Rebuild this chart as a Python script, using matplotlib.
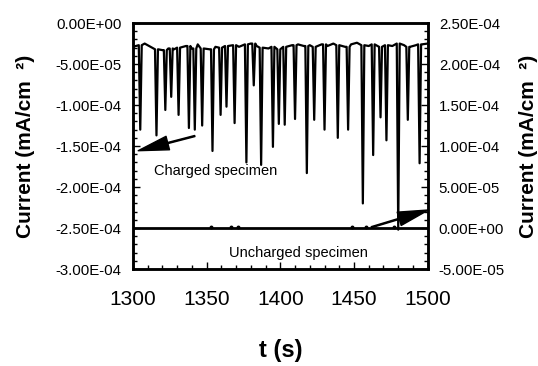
import numpy as np
import matplotlib
matplotlib.use('Agg')
import matplotlib.pyplot as plt
from matplotlib.ticker import MultipleLocator, FuncFormatter

plt.rcParams['font.family'] = ['Liberation Sans', 'DejaVu Sans']

# baseline of charged specimen, read every 4 s (units 1e-5 mA/cm2)
base_t = np.arange(1300, 1501, 4)
base_v = np.array([-2.9, -2.7, -2.5, -2.9, -3.2, -3.3, -3.1, -3.2, -3.0, -2.8,
                   -3.1, -2.6, -3.1, -3.2, -2.9, -3.0, -2.8, -2.7, -2.9, -2.6,
                   -2.5, -2.8, -3.0, -3.1, -2.9, -3.2, -2.9, -2.7, -2.6, -2.8,
                   -2.7, -2.9, -2.6, -2.8, -2.5, -2.7, -2.9, -2.6, -2.4, -2.7,
                   -2.8, -2.6, -2.9, -2.7, -2.8, -2.5, -2.7, -2.9, -2.7, -2.6,
                   -2.5]) * 1e-5

# current transients (spikes) of charged specimen
spike_t = [1305, 1316, 1322, 1326, 1331, 1338, 1342, 1347, 1354, 1359.5,
           1363.5, 1369, 1377, 1382, 1387, 1395, 1399, 1403, 1410, 1418,
           1423, 1430, 1439, 1446, 1456, 1463, 1468, 1472, 1480, 1486.5,
           1494.5]
spike_v = np.array([-13.0, -13.7, -10.6, -9.0, -11.2, -12.8, -13.0, -12.5, -15.6, -11.2,
                    -10.2, -12.2, -17.0, -7.6, -17.3, -15.1, -12.3, -12.4, -11.7, -18.3,
                    -11.8, -13.0, -14.0, -13.0, -22.0, -16.1, -11.5, -14.3, -25.2, -11.8,
                    -17.1]) * 1e-5

# uncharged specimen (right axis)
unch_t = [1300, 1500]
unch_v = [0.0, 0.0]
blip_t = [1353, 1366.5, 1371, 1448.5, 1457.8, 1477]
blip_v = [1.2e-6] * 6

# build charged line
hw = 1.0
pts = []
for t, v in zip(base_t, base_v):
    if min(abs(t - s) for s in spike_t) > hw:
        pts.append((t, v))
for s, v in zip(spike_t, spike_v):
    b = base_v[np.argmin(np.abs(base_t - s))]
    pts += [(s - hw, b), (s, v), (s + hw, b)]
pts.sort()
ct = [p[0] for p in pts]
cv = [p[1] for p in pts]

fig = plt.figure(figsize=(5.38, 3.66), dpi=100)
ax = fig.add_axes([0.247, 0.265, 0.548, 0.672])
ax2 = ax.twinx()

ax.plot(ct, cv, color='black', lw=1.6)
ax2.plot(unch_t, unch_v, color='black', lw=2.0)
ax2.plot(blip_t, blip_v, 'o', color='black', ms=1.8)

ax.set_xlim(1300, 1500)
ax.set_ylim(-3e-4, 0)
ax2.set_ylim(-5e-5, 2.5e-4)

fmt = FuncFormatter(lambda v, p: '{:.2E}'.format(0.0 if abs(v) < 1e-12 else v))
for a in (ax, ax2):
    a.yaxis.set_major_locator(MultipleLocator(5e-5))
    a.yaxis.set_minor_locator(MultipleLocator(1e-5))
    a.yaxis.set_major_formatter(fmt)
    for sp in a.spines.values():
        sp.set_linewidth(1.8)
ax.xaxis.set_major_locator(MultipleLocator(50))
ax.xaxis.set_minor_locator(MultipleLocator(10))

ax.tick_params(axis='y', which='both', direction='in', labelsize=10.8, pad=8, width=1)
ax.tick_params(axis='y', which='major', length=5)
ax.tick_params(axis='y', which='minor', length=3)
ax.tick_params(axis='x', which='both', direction='in', labelsize=15, pad=15, width=1)
ax.tick_params(axis='x', which='major', length=5)
ax.tick_params(axis='x', which='minor', length=3)
ax2.tick_params(axis='y', which='both', direction='in', labelsize=10.8, pad=8, width=1)
ax2.tick_params(axis='y', which='major', length=5)
ax2.tick_params(axis='y', which='minor', length=3)

ylab = 'Current (mA/cm  \u00b2)'
ax.set_ylabel(ylab, fontsize=15, fontweight='bold', labelpad=15)
ax2.set_ylabel(ylab, fontsize=15, fontweight='bold', labelpad=10, rotation=90)
ax.set_xlabel('t (s)', fontsize=17, fontweight='bold', labelpad=22)

ax.text(1356, -1.8e-4, 'Charged specimen', fontsize=10.5, ha='center', va='center')
ax.text(1412.5, -2.8e-4, 'Uncharged specimen', fontsize=10.5, ha='center', va='center')

ax.annotate('', xy=(1303.6, -1.557e-4), xytext=(1342, -1.378e-4),
            arrowprops=dict(facecolor='black', edgecolor='black', width=0.8,
                            headwidth=10, headlength=22, shrink=0))
ax2.annotate('', xy=(1500.5, 2.2e-5), xytext=(1461.8, 1e-6),
             arrowprops=dict(facecolor='black', edgecolor='black', width=0.8,
                             headwidth=10, headlength=22, shrink=0),
             annotation_clip=False)

fig.savefig('out.png', dpi=100)
